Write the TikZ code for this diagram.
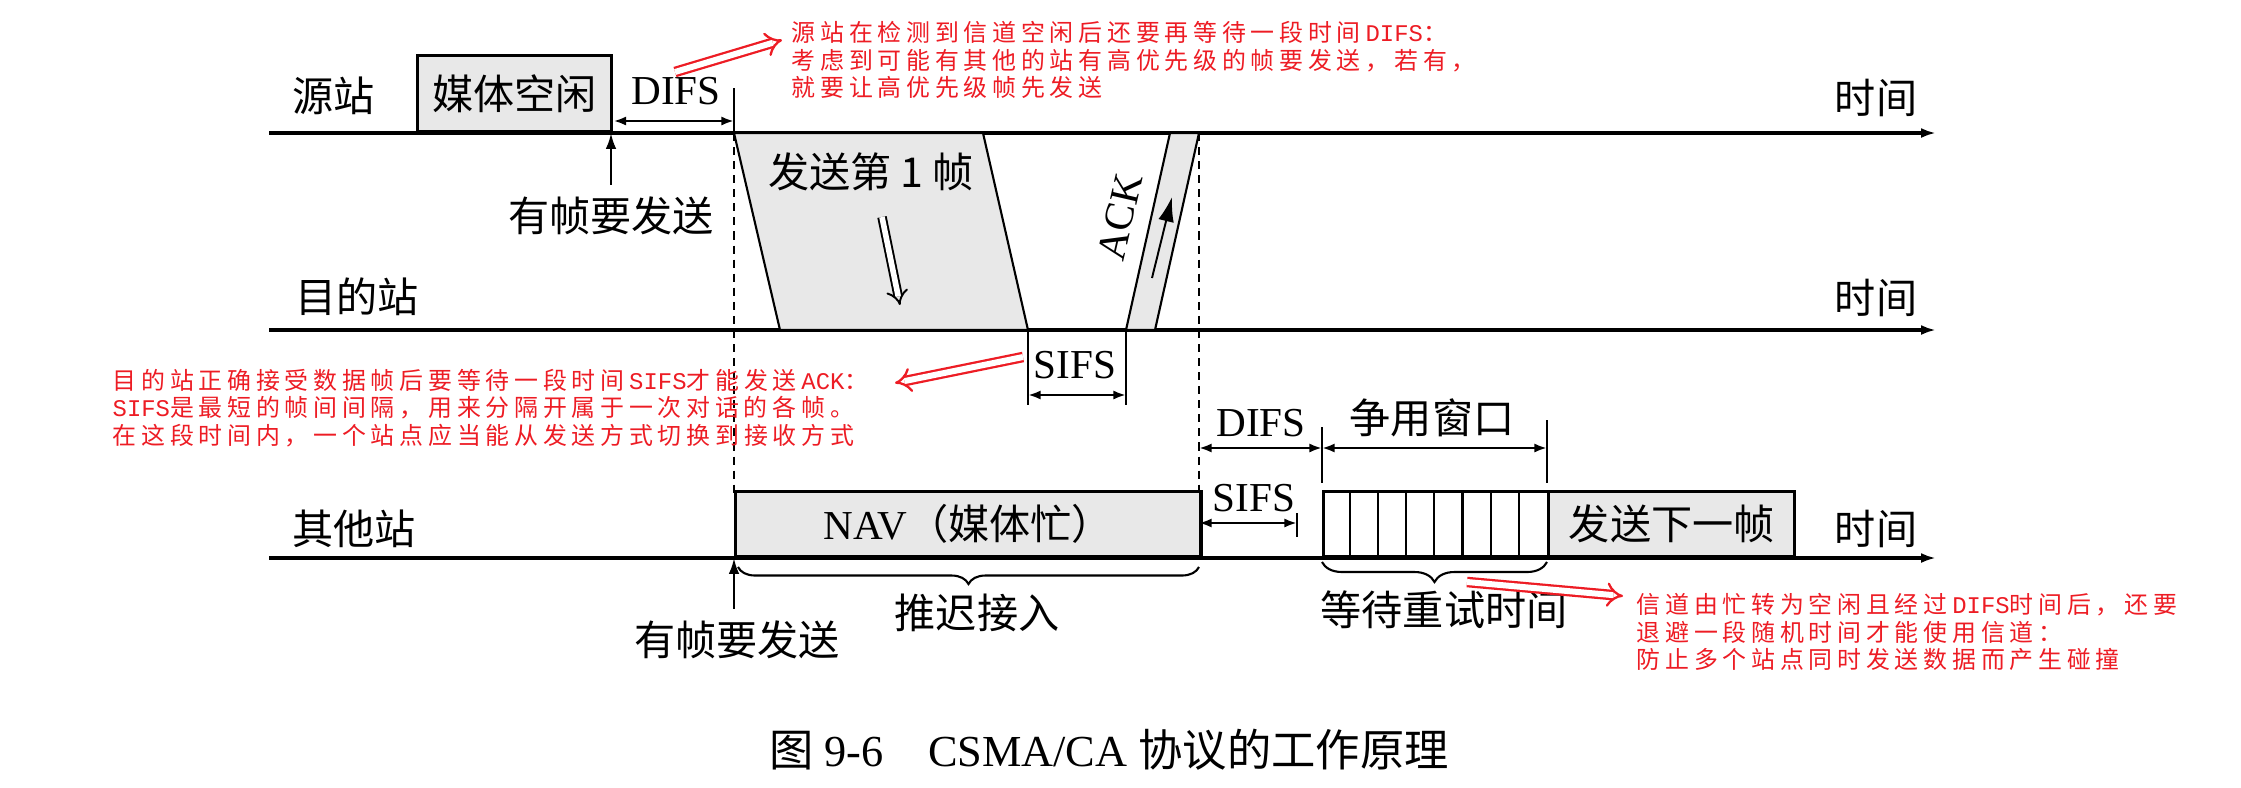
\documentclass[tikz,border=0pt]{standalone}
\usepackage{fontspec}
\setmainfont{Liberation Serif}
\setmonofont{Liberation Mono}
\newfontfamily\zh{Noto Sans CJK SC}
\newfontfamily\zhred[LetterSpace=20]{Noto Sans CJK SC}
\usetikzlibrary{arrows.meta,decorations.pathreplacing,calc,positioning}
\definecolor{boxColor}{RGB}{232,232,232}
\definecolor{noteColor}{RGB}{237,28,36}
\tikzset{box/.append style={draw, line width=0.95pt, fill=boxColor, inner sep=0pt, anchor=south west}}
\tikzset{pkt/.append style={draw, line width=0.6pt, fill=boxColor}}
\tikzset{timeline/.append style={line width=0.95pt, -{Latex[length=0.15cm,width=0.1cm]}}}
\tikzset{dimline/.append style={line width=0.7pt, {Latex[length=3.6pt,width=2.6pt]}-{Latex[length=3.6pt,width=2.6pt]}}}
\tikzset{tickline/.append style={line width=0.55pt}}
\tikzset{guideline/.append style={line width=0.45pt, dash pattern=on 2.3pt off 1.7pt}}
\tikzset{reqarrow/.append style={line width=0.7pt, -{Latex[length=4.5pt,width=3pt]}}}
\tikzset{brc/.append style={line width=0.6pt, decorate, decoration={brace, mirror, amplitude=0.17cm}}}
\tikzset{remark/.append style={text=noteColor, font=\fontsize{6.8pt}{7.83pt}\zhred, align=left, anchor=west, inner sep=0pt}}
\tikzset{hint/.append style={draw=noteColor, double=white, line width=0.65pt, double distance=1.7pt, -{Implies[length=7.5pt,width=7pt]}}}
\tikzset{hollow/.append style={draw=black, double=white, line width=0.55pt, double distance=1.6pt, -{Implies[length=7pt,width=6.5pt]}}}

\begin{document}
\begin{tikzpicture}[x=0.01cm, y=-0.01cm, font=\fontsize{11.7pt}{14pt}\selectfont]

    \useasboundingbox (0,0) rectangle (2241,787);

    % Time lines
    \draw [timeline] (269,133) -- (1936,133);
    \draw [timeline] (269,330) -- (1936,330);
    \draw [timeline] (269,558) -- (1936,558);

    % Stations
    \node (src) [anchor=west] at (280,96) {\zh 源站};
    \node (dst) [anchor=west] at (283,297) {\zh 目的站};
    \node (oth) [anchor=west] at (280,529) {\zh 其他站};
    \node (t1) at (1876,98) {\zh 时间};
    \node (t2) at (1876,298) {\zh 时间};
    \node (t3) at (1876,529) {\zh 时间};

    % Guides
    \draw [guideline] (734,133) -- (734,493);
    \draw [guideline] (1199,133) -- (1199,493);

    % Source station
    \node (idle) [box, minimum width=1.94cm, minimum height=0.76cm] at (416,133) {\zh 媒体空闲};
    \node (difsA) at (676,91) {DIFS};
    \coordinate (difsAend) at (734,121);
    \draw [tickline] (734,88) -- (734,133);
    \draw [dimline] (idle.east |- difsAend) -- (difsAend);
    \node (req1) at (611,216) {\zh 有帧要发送};
    \draw [reqarrow] (req1.north) -- (req1.north |- idle.south);

    % Frame and ACK
    \draw [pkt] (734,133) -- (983,133) -- (1028,330) -- (780,330) -- cycle;
    \node (f1) at (871,172) {\zh 发送第 1 帧};
    \coordinate (f1a) at (882,217);
    \coordinate (f1b) at (900,305);
    \draw [hollow] (f1a) -- (f1b);
    \draw [pkt] (1126,330) -- (1155,330) -- (1199,133) -- (1170,133) -- cycle;
    \node (ack) [rotate=77] at (1120,217) {ACK};
    \coordinate (acka) at (1152,278);
    \coordinate (ackb) at (1172,197);
    \draw [line width=0.55pt, -{Latex[length=7pt,width=4.5pt]}] (acka) -- (ackb);

    % Destination SIFS
    \draw [tickline] (1028,330) -- (1028,405);
    \draw [tickline] (1126,330) -- (1126,405);
    \coordinate (sifsAl) at (1028,395);
    \coordinate (sifsAr) at (1126,395);
    \draw [dimline] (sifsAl) -- (sifsAr);
    \node (sifsA) at (1075,365) {SIFS};

    % Other stations
    \node (nav) [box, minimum width=4.65cm, minimum height=0.65cm] at (734,558) {NAV{\zh （媒体忙）}};
    \node (wait) [box, fill=white, minimum width=2.25cm, minimum height=0.65cm] at (1322,558) {};
    \foreach \i in {1,...,7}
        \draw [line width=0.6pt] ($(wait.south west)+(\i*28.1,0)$) -- ($(wait.north west)+(\i*28.1,0)$);
    \node (next) [box, minimum width=2.46cm, minimum height=0.65cm] at (1547,558) {\zh 发送下一帧};

    \node (difsB) at (1261,423) {DIFS};
    \node (cw) at (1432,418) {\zh 争用窗口};
    \node (sifsB) at (1254,498) {SIFS};
    \draw [tickline] (1322,427) -- (1322,483);
    \draw [tickline] (1547,420) -- (1547,483);
    \draw [tickline] (1297,513) -- (1297,537);
    \coordinate (cwl) at (1199,448);
    \coordinate (cwm) at (1322,448);
    \coordinate (cwr) at (1547,448);
    \draw [dimline] (cwl) -- (cwm);
    \draw [dimline] (cwm) -- (cwr);
    \coordinate (sifsBl) at (1199,523);
    \coordinate (sifsBr) at (1297,523);
    \draw [dimline] (sifsBl) -- (sifsBr);

    \node (req2) at (737,640) {\zh 有帧要发送};
    \draw [reqarrow] (req2.north -| nav.south west) -- (nav.south west);
    \draw [brc] (738,567) -- (1199,567);
    \node (defer) at (977,613) {\zh 推迟接入};
    \draw [brc, decoration={amplitude=0.2cm}] (1322,562) -- (1547,562);
    \node (retry) at (1444,610) {\zh 等待重试时间};

    % Notes
    \node (noteA) [remark] at (791,60) {源站在检测到信道空闲后还要再等待一段时间\texttt{DIFS}：\\考虑到可能有其他的站有高优先级的帧要发送，若有，\\就要让高优先级帧先发送};
    \node (noteB) [remark] at (112,408) {目的站正确接受数据帧后要等待一段时间\texttt{SIFS}才能发送\texttt{ACK}：\\\texttt{SIFS}是最短的帧间间隔，用来分隔开属于一次对话的各帧。\\在这段时间内，一个站点应当能从发送方式切换到接收方式};
    \node (noteC) [remark] at (1636,632) {信道由忙转为空闲且经过\texttt{DIFS}时间后，还要\\退避一段随机时间才能使用信道：\\防止多个站点同时发送数据而产生碰撞};

    \coordinate (hintA0) at (675,72);
    \coordinate (hintA1) at (782,40);
    \coordinate (hintB0) at (1023,357);
    \coordinate (hintB1) at (895,383);
    \coordinate (hintC0) at (1467,582);
    \coordinate (hintC1) at (1623,596);
    \draw [hint] (hintA0) -- (hintA1);
    \draw [hint] (hintB0) -- (hintB1);
    \draw [hint] (hintC0) -- (hintC1);

    % Caption
    \node (cap) [font=\fontsize{12.6pt}{15pt}\selectfont] at (1109,750) {{\zh 图} 9-6\hspace{1em}CSMA/CA {\zh 协议的工作原理}};

\end{tikzpicture}
\end{document}
